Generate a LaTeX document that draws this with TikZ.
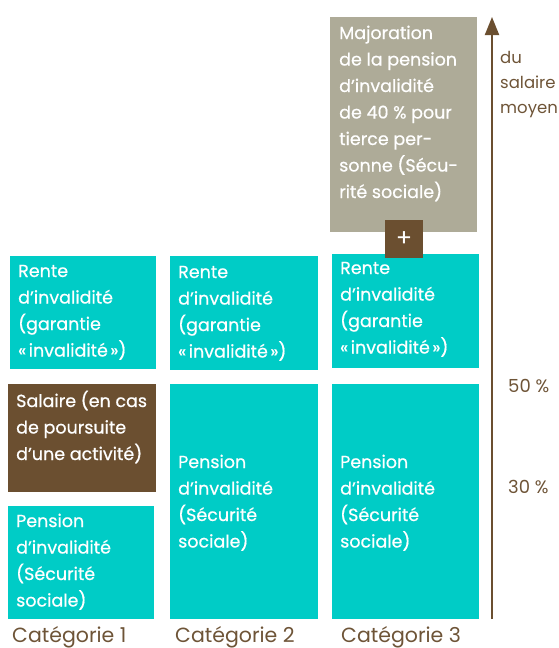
\documentclass[tikz,border=0pt]{standalone}
\usepackage{fontspec}
\setmainfont{Poppins}
\newfontfamily\boxfont{Poppins}[FakeBold=0.6]
\usetikzlibrary{arrows.meta}
\definecolor{teal1}{RGB}{0,204,198}
\definecolor{brown1}{RGB}{107,79,48}
\definecolor{gray1}{RGB}{174,171,152}
\definecolor{labbrown}{RGB}{110,84,55}
\newcommand\blines[1]{\begin{tabular}[t]{@{}l@{}}#1\end{tabular}}
\tikzset{
  btext/.style={anchor=base west,inner sep=0,text=white,font=\boxfont\fontsize{17.5}{26.5}\selectfont},
  axlab/.style={anchor=base west,inner sep=0,text=labbrown,font=\fontsize{16.5}{25}\selectfont},
  pctlab/.style={anchor=base west,inner sep=0,text=labbrown,font=\fontsize{18}{25}\selectfont},
  catlab/.style={anchor=base west,inner sep=0,text=labbrown,font=\fontsize{20.5}{24}\selectfont},
  plusbox/.style={draw=none,inner sep=0,outer sep=0,fill=brown1,minimum width=38pt,minimum height=38pt,text=white,font=\fontsize{24}{24}\selectfont},
}
\begin{document}
\begin{tikzpicture}[x=1pt,y=-1pt]
\useasboundingbox (0,0) rectangle (558,648);
% boxes
\fill[teal1] (10,256) rectangle (156,369);
\coordinate (r1) at (10,256);
\fill[teal1] (170,256) rectangle (318,370);
\coordinate (r2) at (170,256);
\fill[teal1] (332,254) rectangle (479,368);
\coordinate (r3) at (332,254);
\fill[brown1] (8,384) rectangle (156,492);
\coordinate (s1) at (8,384);
\fill[teal1] (8,506) rectangle (154,619);
\coordinate (p1) at (8,506);
\fill[teal1] (170,384) rectangle (318,619);
\coordinate (p2) at (170,384);
\fill[teal1] (332,384) rectangle (479,619);
\coordinate (p3) at (332,384);
\fill[gray1] (330,17) rectangle (477,232);
\coordinate (m3) at (330,17);
\node[plusbox] (plus) at (404,239) {+};
% texts
\node[btext] (t1) at ([shift={(8,21)}]r1) {\blines{Rente\\d’invalidité\\(garantie\\«\kern2.5pt invalidité\kern2.5pt»)}};
\node[btext] (t2) at ([shift={(8,22)}]r2) {\blines{Rente\\d’invalidité\\(garantie\\«\kern2.5pt invalidité\kern2.5pt»)}};
\node[btext] (t3) at ([shift={(8,20)}]r3) {\blines{Rente\\d’invalidité\\(garantie\\«\kern2.5pt invalidité\kern2.5pt»)}};
\node[btext] (ts) at ([shift={(8,23)}]s1) {\blines{Salaire (en cas\\de poursuite\\d’une activité)}};
\node[btext] (tp1) at ([shift={(8,21)}]p1) {\blines{Pension\\d’invalidité\\(Sécurité\\sociale)}};
\node[btext] (tp2) at ([shift={(8,84)}]p2) {\blines{Pension\\d’invalidité\\(Sécurité\\sociale)}};
\node[btext] (tp3) at ([shift={(8,84)}]p3) {\blines{Pension\\d’invalidité\\(Sécurité\\sociale)}};
\node[btext] (tm) at ([shift={(9,22)}]m3) {\blines{Majoration\\de la pension\\d’invalidité\\de 40 \% pour\\tierce per-\\sonne (Sécu-\\rité sociale)}};
% axis
\coordinate (ab) at (492,619);
\coordinate (at) at (492,17);
\draw[brown1,line width=2pt,-{Triangle[width=14pt,length=18pt]}] (ab) -- (at);
\node[axlab] (du) at (500,63) {\blines{du\\salaire\\moyen}};
\node[pctlab] (l50) at (508,392) {50 \%};
\node[pctlab] (l30) at (508,493) {30 \%};
% categories
\node[catlab] (c1) at (12,642) {Catégorie 1};
\node[catlab] (c2) at (175,642) {Catégorie 2};
\node[catlab] (c3) at (341,642) {Catégorie 3};
\end{tikzpicture}
\end{document}
